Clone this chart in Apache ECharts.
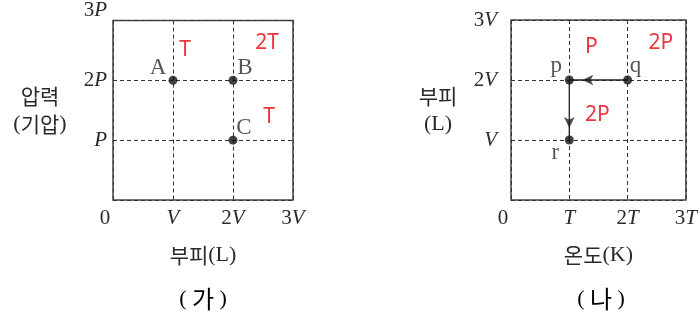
<!DOCTYPE html>
<html>
<head>
<meta charset="utf-8">
<script src="https://cdn.jsdelivr.net/npm/echarts@6/dist/echarts.min.js"></script>
<style>html,body{margin:0;padding:0;background:#fff}#main{width:700px;height:320px}</style>
</head>
<body>
<div id="main"></div>
<script>
// (가) 압력-부피 그래프
var leftXLabels = ['0', 'V', '2V', '3V'];
var leftYLabels = ['', 'P', '2P', '3P'];
var leftPoints = [[1, 2], [2, 2], [2, 1]];
var leftPointNames = ['A', 'B', 'C'];
var leftTemps = [[1.2, 2.5], [2.57, 2.62], [2.6, 1.38]];
var leftTempNames = ['T', '2T', 'T'];

// (나) 부피-온도 그래프
var rightXLabels = ['0', 'T', '2T', '3T'];
var rightYLabels = ['', 'V', '2V', '3V'];
var rightPoints = [[1, 2], [2, 2], [1, 1]];
var rightPointNames = ['p', 'q', 'r'];
var rightPath = [[2, 2], [1, 2], [1, 1]];
var rightPress = [[1.38, 2.55], [2.57, 2.62], [1.48, 1.42]];
var rightPressNames = ['P', '2P', '2P'];

// 라벨 위치(픽셀 오프셋)
var leftOffsets = [[-15, -12], [12, -12], [11, -12]];
var rightOffsets = [[-13, -14], [8, -14], [-14, 13]];

var TXT = '#2a2a2a';
var SERIF = 'Liberation Serif';
var KR = 'Noto Sans CJK KR';

var richTick = {
    n: {fontFamily: SERIF, fontSize: 21, color: TXT},
    i: {fontFamily: SERIF, fontSize: 21, fontStyle: 'italic', color: TXT},
    z: {fontFamily: SERIF, fontSize: 21, color: TXT, padding: [0, 16, 0, 0]},
    up: {fontFamily: SERIF, fontSize: 21, color: TXT, padding: [0, 0, 20, 0]},
    upi: {fontFamily: SERIF, fontSize: 21, fontStyle: 'italic', color: TXT, padding: [0, 0, 20, 0]}
};
var richName = {
    k: {fontFamily: KR, fontSize: 21, color: TXT, lineHeight: 28},
    s: {fontFamily: SERIF, fontSize: 22, color: TXT, lineHeight: 28},
    b: {fontFamily: KR, fontSize: 24, color: TXT, lineHeight: 28}
};

function serifLabel(s, raise) {
    if (s === '0') return '{z|0}';
    var m = s.match(/^(\d*)([A-Z]*)$/);
    var a = raise ? 'up' : 'n', b = raise ? 'upi' : 'i';
    return (m[1] ? '{' + a + '|' + m[1] + '}' : '') + (m[2] ? '{' + b + '|' + m[2] + '}' : '');
}

function makeX(idx, labels, name) {
    return {
        type: 'value', gridIndex: idx, min: 0, max: 3, interval: 1,
        axisLine: {show: false}, axisTick: {show: false},
        splitLine: {show: true, lineStyle: {color: '#333', type: [4, 3], width: 1}},
        axisLabel: {
            margin: 8, showMinLabel: true, showMaxLabel: true, rich: richTick,
            formatter: function (v) { return serifLabel(labels[Math.round(v)]); }
        },
        name: name, nameLocation: 'middle', nameGap: 41,
        nameTextStyle: {rich: richName}
    };
}

function makeY(idx, labels, name, margin, raiseTop) {
    return {
        type: 'value', gridIndex: idx, min: 0, max: 3, interval: 1,
        axisLine: {show: false}, axisTick: {show: false},
        splitLine: {show: true, lineStyle: {color: '#333', type: [4, 3], width: 1}},
        axisLabel: {
            margin: margin, showMinLabel: true, showMaxLabel: true, rich: richTick,
            formatter: function (v) {
                var k = Math.round(v);
                return labels[k] ? serifLabel(labels[k], raiseTop && k === 3) : '';
            }
        },
        name: name, nameLocation: 'middle', nameGap: 73, nameRotate: 0,
        nameTextStyle: {rich: richName, align: 'center', verticalAlign: 'middle'}
    };
}

function pointSeries(idx, pts, names, offs) {
    return {
        type: 'scatter', xAxisIndex: idx, yAxisIndex: idx, z: 5,
        symbolSize: 9, itemStyle: {color: '#111'},
        label: {show: true, position: 'inside', fontFamily: SERIF, fontSize: 23, color: TXT,
            formatter: function (p) { return p.name; }},
        data: pts.map(function (p, i) {
            return {value: p, name: names[i], label: {offset: offs[i]}};
        })
    };
}

function redSeries(idx, pts, names) {
    return {
        type: 'scatter', xAxisIndex: idx, yAxisIndex: idx,
        symbolSize: 1, itemStyle: {color: 'rgba(0,0,0,0)'},
        label: {show: true, position: 'inside', fontFamily: 'Noto Sans', fontSize: 21, color: '#e8000b',
            formatter: function (p) { return p.name; }},
        data: pts.map(function (p, i) { return {value: p, name: names[i]}; })
    };
}

var chart = echarts.init(document.getElementById('main'));
chart.setOption({
    animation: false,
    grid: [
        {left: 113, top: 20, width: 180, height: 180, show: true, borderColor: '#444', borderWidth: 1.5},
        {left: 511, top: 20, width: 180, height: 180, show: true, borderColor: '#444', borderWidth: 1.5}
    ],
    xAxis: [
        makeX(0, leftXLabels, '{k|부피}{s|(L)}'),
        makeX(1, rightXLabels, '{k|온도}{s|(K)}')
    ],
    yAxis: [
        makeY(0, leftYLabels, '{k|압력}\n{s|(}{k|기압}{s|)}', 6, true),
        makeY(1, rightYLabels, '{k|부피}\n{s|(L)}', 14, false)
    ],
    series: [
        {
            type: 'line', xAxisIndex: 1, yAxisIndex: 1, data: rightPath,
            symbol: 'none', lineStyle: {color: '#222', width: 1.3}
        },
        {
            type: 'scatter', xAxisIndex: 1, yAxisIndex: 1, symbol: 'arrow',
            symbolSize: [8, 11], symbolRotate: 90, symbolOffset: [13, 0],
            itemStyle: {color: '#222'}, data: [rightPath[1]]
        },
        {
            type: 'scatter', xAxisIndex: 1, yAxisIndex: 1, symbol: 'arrow',
            symbolSize: [8, 11], symbolRotate: 180, symbolOffset: [0, -12],
            itemStyle: {color: '#222'}, data: [rightPath[2]]
        },
        pointSeries(0, leftPoints, leftPointNames, leftOffsets),
        pointSeries(1, rightPoints, rightPointNames, rightOffsets),
        redSeries(0, leftTemps, leftTempNames),
        redSeries(1, rightPress, rightPressNames)
    ],
    graphic: [
        {type: 'text', x: 203, y: 299, style: {text: '{s|( }{b|가}{s| )}', align: 'center', verticalAlign: 'middle', rich: richName}},
        {type: 'text', x: 601, y: 299, style: {text: '{s|( }{b|나}{s| )}', align: 'center', verticalAlign: 'middle', rich: richName}}
    ]
});
</script>
</body>
</html>
